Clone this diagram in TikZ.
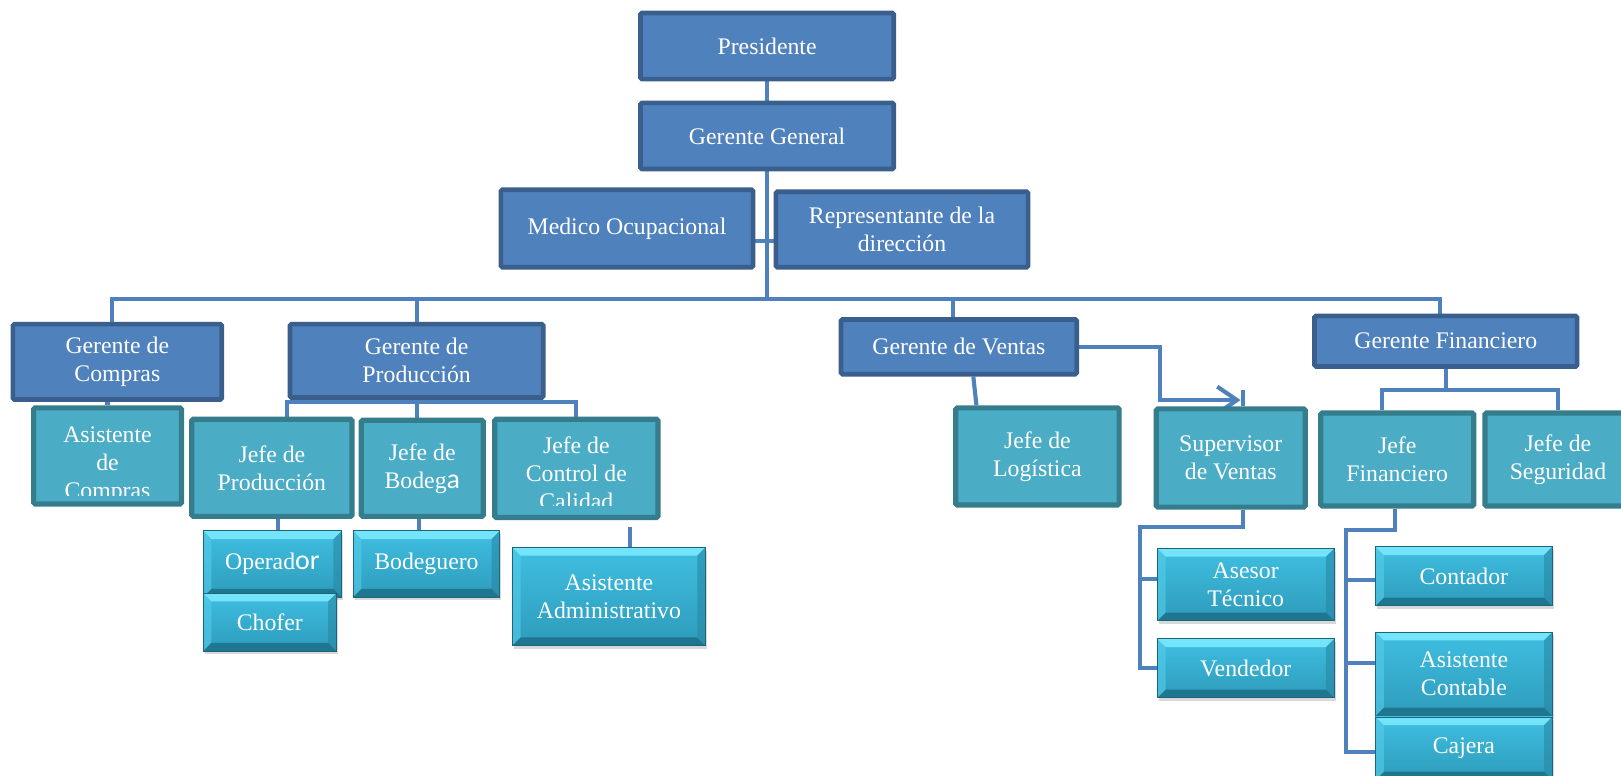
\documentclass[tikz,border=0pt]{standalone}
\usepackage{fontspec}
\setmainfont{Liberation Serif}
\newfontfamily\calfont{Carlito}
\usetikzlibrary{shadows,arrows.meta}
\pgfdeclarelayer{paper}
\pgfdeclarelayer{bg}
\pgfsetlayers{paper,bg,main}

\definecolor{navyfill}{HTML}{4F81BD}
\definecolor{navyline}{HTML}{3A5F8C}
\definecolor{tealfill}{HTML}{4BACC6}
\definecolor{tealline}{HTML}{357C8D}
\definecolor{cyantop}{HTML}{3FBFE1}
\definecolor{cyanbot}{HTML}{2E9BBB}
\definecolor{bevlight}{HTML}{74E4FA}
\definecolor{bevdark}{HTML}{1F7690}
\definecolor{bevleft}{HTML}{55CDEB}
\definecolor{bevright}{HTML}{2888A5}
\definecolor{cyanline}{HTML}{1D657A}
\definecolor{linkblue}{HTML}{4F81BD}

\newcommand\sanspart[1]{{\calfont\fontsize{27}{27}\selectfont #1}}

\tikzset{
  lbl/.style={text=white, align=center, font=\fontsize{23}{27}\selectfont, inner sep=0pt},
  wh/.style 2 args={minimum width=#1, minimum height=#2},
  navybox/.style={lbl, draw=navyline, fill=navyfill, line width=4.5pt, rounded corners=1.5pt},
  tealbox/.style={lbl, draw=tealline, fill=tealfill, line width=5pt, rounded corners=1.5pt},
  bevelbox/.style={lbl, draw=cyanline, line width=0.8pt, top color=cyantop, bottom color=cyanbot,
    drop shadow={opacity=0.3, shadow xshift=1.5pt, shadow yshift=-3pt},
    path picture={
      \fill[bevlight] (path picture bounding box.north west) -- (path picture bounding box.north east)
        -- ([shift={(-8pt,-8pt)}]path picture bounding box.north east)
        -- ([shift={(8pt,-8pt)}]path picture bounding box.north west) -- cycle;
      \fill[bevdark] (path picture bounding box.south west) -- (path picture bounding box.south east)
        -- ([shift={(-8pt,8pt)}]path picture bounding box.south east)
        -- ([shift={(8pt,8pt)}]path picture bounding box.south west) -- cycle;
      \fill[bevleft, opacity=0.6] (path picture bounding box.north west) -- (path picture bounding box.south west)
        -- ([shift={(8pt,8pt)}]path picture bounding box.south west)
        -- ([shift={(8pt,-8pt)}]path picture bounding box.north west) -- cycle;
      \fill[bevright, opacity=0.6] (path picture bounding box.north east) -- (path picture bounding box.south east)
        -- ([shift={(-8pt,8pt)}]path picture bounding box.south east)
        -- ([shift={(-8pt,-8pt)}]path picture bounding box.north east) -- cycle;
    }},
  conn/.style={draw=linkblue, line width=4pt}
}

\begin{document}
\begin{tikzpicture}[x=1pt, y=-1pt]
\useasboundingbox (0,0) rectangle (1568,750);
\begin{pgfonlayer}{paper}
  \fill[white] (0,0) rectangle (1568,750);
\end{pgfonlayer}

% top management
\node[navybox, wh={245}{64}] (pres) at (742,44.5) {Presidente};
\node[navybox, wh={245}{64}] (gg) at (742,131.5) {Gerente General};
\node[navybox, wh={244}{75}] (medico) at (606.5,221) {Medico Ocupacional};
\node[navybox, wh={244}{73}] (rep) at (872.5,222) {Representante de la\\direcci\'on};

% department managers
\node[navybox, wh={202}{73}] (gcomp) at (113.5,350) {Gerente de\\Compras};
\node[navybox, wh={245}{71}] (gprod) at (403,349) {Gerente de\\Producci\'on};
\node[navybox, wh={228}{53}] (gvent) at (927.5,335.5) {Gerente de Ventas};
\node[navybox, wh={254}{49}] (gfin) at (1398.5,330) {Gerente Financiero};

% heads
\node[tealbox, wh={143}{93}] (asiscomp) at (104,441) {};
\begin{scope}
  \clip (36,398) rectangle (172,479);
  \node[lbl, anchor=north] (asiscomp-t) at (104,412.5) {Asistente\\de\\Compras};
\end{scope}
\node[tealbox, wh={155}{94}] (jprod) at (263,452.5) {Jefe de\\Producci\'on};
\node[tealbox, wh={118}{93}] (jbod) at (408.5,453) {Jefe de\\Bodeg\sanspart{a}};
\node[tealbox, wh={158}{95}] (jcal) at (557.5,453) {};
\begin{scope}
  \clip (482,409) rectangle (633,489);
  \node[lbl, anchor=north] (jcal-t) at (557.5,422) {Jefe de\\Control de\\Calidad};
\end{scope}
\node[tealbox, wh={158}{94}] (jlog) at (1003.5,441.5) {Jefe de\\Log\'istica};
\node[tealbox, wh={144}{95}] (supv) at (1190.5,443) {Supervisor\\de Ventas};
\node[tealbox, wh={148}{90}] (jfin) at (1351.5,444.5) {Jefe\\Financiero};
\node[tealbox, wh={141}{90}] (jseg) at (1507,444.5) {Jefe de\\Seguridad};

% staff
\node[bevelbox, wh={134}{64}] (oper) at (263.5,545.5) {Operad\sanspart{or}};
\node[bevelbox, wh={129}{56}] (chof) at (261,601.75) {Chofer};
\node[bevelbox, wh={142}{64}] (bodeg) at (412.5,545.5) {Bodeguero};
\node[bevelbox, wh={187}{95}] (asisadm) at (589,577) {Asistente\\Administrativo};
\node[bevelbox, wh={171}{70}] (asesor) at (1205,565.5) {Asesor\\T\'ecnico};
\node[bevelbox, wh={171}{57}] (vend) at (1205,646.5) {Vendedor};
\node[bevelbox, wh={171}{57}] (cont) at (1416,557.5) {Contador};
\node[bevelbox, wh={171}{81}] (asiscont) at (1416,652) {Asistente\\Contable};
\node[bevelbox, wh={171}{61}] (cajera) at (1416,724) {Cajera};

% connectors
\begin{pgfonlayer}{bg}
  \coordinate (bus) at (742,289);
  \coordinate (mrtick) at (742,233);
  \draw[conn] (pres.south) -- (gg.north);
  \draw[conn] (gg.south) -- (bus);
  \draw[conn] (medico.east |- mrtick) -- (rep.west |- mrtick);
  \draw[conn] ([xshift=-5.5pt]gcomp.north) -- ([xshift=-5.5pt]gcomp.north |- bus)
    -- ([xshift=-5.5pt]gfin.north |- bus) -- ([xshift=-5.5pt]gfin.north);
  \draw[conn] (gprod.north) -- (gprod.north |- bus);
  \draw[conn] ([xshift=-6pt]gvent.north) -- ([xshift=-6pt]gvent.north |- bus);
  \draw[conn] (asiscomp.north) -- (asiscomp.north |- gcomp.south);

  % production
  \coordinate (pbar) at (0,389);
  \draw[conn] ([xshift=15pt]jprod.north) -- ([xshift=15pt]jprod.north |- pbar)
    -- (jcal.north |- pbar) -- (jcal.north);
  \draw[conn] (gprod.south) -- (gprod.south |- jbod.north);
  \draw[conn] ([xshift=6pt]jprod.south) -- ([xshift=6pt]jprod.south |- oper.north);
  \draw[conn] ([xshift=-3.5pt]jbod.south) -- ([xshift=-3.5pt]jbod.south |- bodeg.north);
  \coordinate (cqtop) at (609,510);
  \draw[conn] (cqtop) -- (cqtop |- asisadm.north);

  % sales
  \draw[conn] ([xshift=14pt]gvent.south) -- ([xshift=-59pt]jlog.north);
  \coordinate (vbend) at (1122,387);
  \coordinate (vtip) at (1200,387);
  \draw[conn, -{Straight Barb[length=19pt,width=26pt]}] (gvent.east) -| (vbend) -- (vtip);
  \coordinate (vtick) at (1202,377);
  \draw[conn] (vtick) -- (vtick |- supv.north);
  \coordinate (sv) at (1103,510);
  \coordinate (sv2) at (1103,560);
  \draw[conn] ([xshift=11.5pt]supv.south) -- ([xshift=11.5pt]supv.south |- sv) -- (sv)
    -- (sv |- vend.west) -- (vend.west);
  \draw[conn] (sv2) -- (asesor.west |- sv2);

  % finance
  \coordinate (fbar) at (0,377);
  \draw[conn] (gfin.south) -- (gfin.south |- fbar);
  \draw[conn] ([xshift=-15pt]jfin.north) -- ([xshift=-15pt]jfin.north |- fbar)
    -- (jseg.north |- fbar) -- (jseg.north);
  \coordinate (fv) at (1302,513);
  \coordinate (fb) at (1302,727);
  \coordinate (fc1) at (1302,561);
  \coordinate (fc2) at (1302,641);
  \draw[conn] ([xshift=-2pt]jfin.south) -- ([xshift=-2pt]jfin.south |- fv) -- (fv)
    -- (fb) -- (cajera.west |- fb);
  \draw[conn] (fc1) -- (cont.west |- fc1);
  \draw[conn] (fc2) -- (asiscont.west |- fc2);
\end{pgfonlayer}
\end{tikzpicture}
\end{document}
